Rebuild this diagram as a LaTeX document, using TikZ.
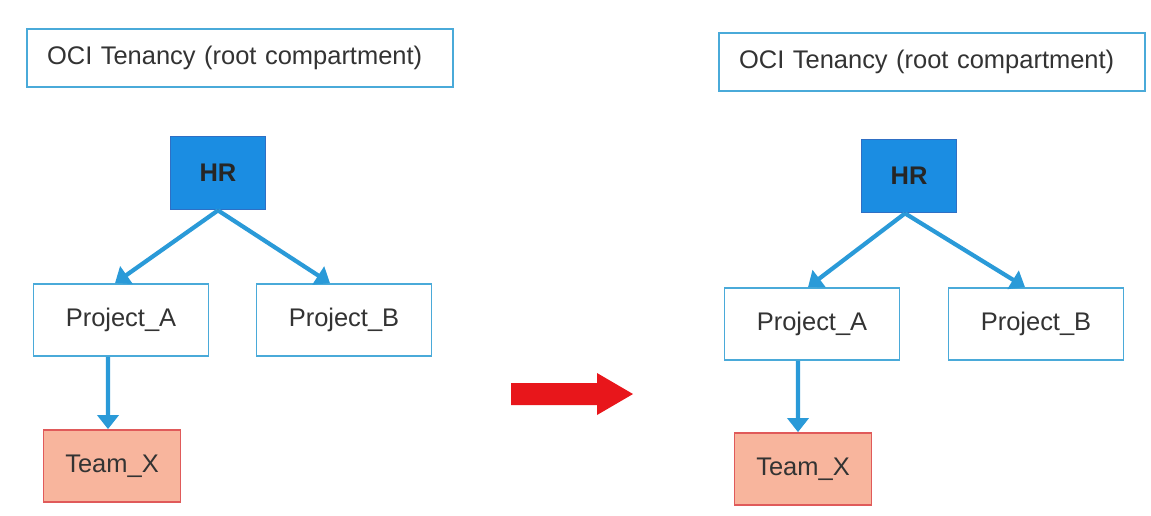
\documentclass[tikz,border=0pt]{standalone}
\usepackage{fontspec}
\setmainfont{Liberation Sans}
\usetikzlibrary{arrows.meta}
\definecolor{boxblue}{HTML}{4AAAD9}
\definecolor{linkblue}{HTML}{2A9AD8}
\definecolor{hrfill}{HTML}{1B8DE2}
\definecolor{hrline}{HTML}{2F6FC4}
\definecolor{teamfill}{HTML}{F8B59D}
\definecolor{teamline}{HTML}{E05A5A}
\definecolor{bigred}{HTML}{E8161B}
\definecolor{txt}{HTML}{333333}
\tikzset{
  plain/.style={draw=boxblue,line width=1pt,fill=white,minimum width=3.5cm,minimum height=1.44cm,inner sep=0pt,text=txt,font=\fontsize{14.5}{16}\selectfont},
  root/.style={plain,minimum width=8.52cm,minimum height=1.16cm,text width=7.72cm,align=left},
  hrbox/.style={plain,draw=hrline,fill=hrfill,minimum width=1.9cm,minimum height=1.46cm,font=\fontsize{14.5}{16}\selectfont\bfseries,text=black!85},
  teambox/.style={plain,draw=teamline,fill=teamfill,minimum width=2.74cm},
  link/.style={draw=linkblue,line width=2.4pt,-{Triangle[width=12pt,length=8pt]}}
}
\begin{document}
\begin{tikzpicture}[x=0.02cm,y=-0.02cm]
    \useasboundingbox (0,0) rectangle (1151,515);
    \node[root] (rootL) at (240,58) {OCI Tenancy (root compartment)};
    \node[hrbox] (hrL) at (218,173) {HR};
    \node[plain] (paL) at (121,320) {Project\_A};
    \node[plain] (pbL) at (344,320) {Project\_B};
    \node[teambox] (tmL) at (112,466) {Team\_X};
    \draw[link] (hrL.south) -- ([xshift=-0.12cm]paL.north);
    \draw[link] (hrL.south) -- ([xshift=-0.28cm]pbL.north);
    \draw[link] ([xshift=-0.26cm]paL.south) -- ([xshift=-0.08cm]tmL.north);
    \node[root] (rootR) at (932,62) {OCI Tenancy (root compartment)};
    \node[hrbox] (hrR) at (909,176) {HR};
    \node[plain] (paR) at (812,324) {Project\_A};
    \node[plain] (pbR) at (1036,324) {Project\_B};
    \node[teambox] (tmR) at (803,469) {Team\_X};
    \draw[link] ([xshift=-0.08cm]hrR.south) -- ([xshift=-0.08cm]paR.north);
    \draw[link] ([xshift=-0.08cm]hrR.south) -- ([xshift=-0.22cm]pbR.north);
    \draw[link] ([xshift=-0.28cm]paR.south) -- ([xshift=-0.1cm]tmR.north);
    \coordinate (arrowFrom) at (511,394);
    \coordinate (arrowTo) at (633,394);
    \fill[bigred] (511,383) -- (597,383) -- (597,373) -- (arrowTo) -- (597,415) -- (597,405) -- (511,405) -- cycle;
\end{tikzpicture}
\end{document}
